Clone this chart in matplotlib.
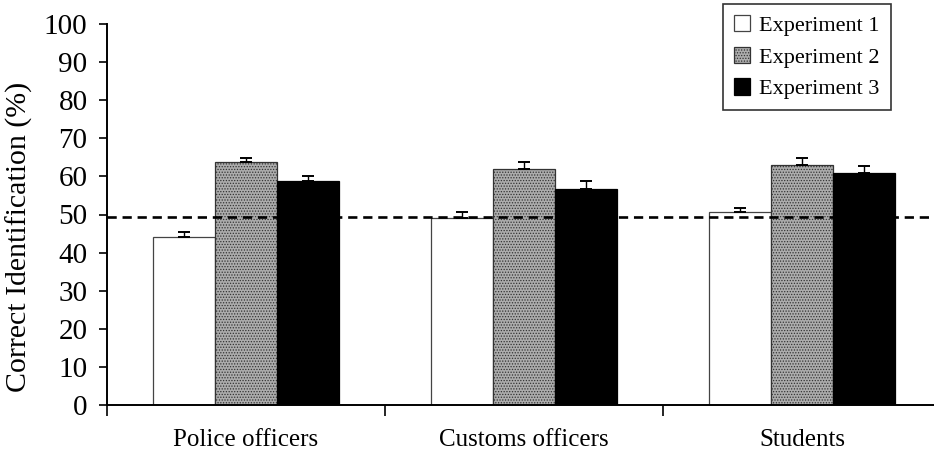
import matplotlib
matplotlib.use("Agg")
import matplotlib.pyplot as plt
import numpy as np

plt.rcParams['font.family'] = ['Liberation Serif', 'DejaVu Serif']
plt.rcParams['hatch.linewidth'] = 0.6

groups = ["Police officers", "Customs officers", "Students"]
series = ["Experiment 1", "Experiment 2", "Experiment 3"]
exp1 = [44.0, 49.0, 50.6]
exp2 = [63.8, 62.0, 63.0]
exp3 = [58.7, 56.7, 61.0]
err1 = [1.3, 1.6, 1.0]
err2 = [1.0, 1.8, 1.8]
err3 = [1.5, 2.0, 1.7]
chance = 49.3
yticks = list(range(0, 101, 10))

fig = plt.figure(figsize=(9.34, 4.62), dpi=100)
ax = fig.add_axes([107/934, 57/462, 834/934, 381/462])

x = np.arange(len(groups))
w = 0.223
styles = [
    dict(color="white", edgecolor="#444444", linewidth=0.9),
    dict(color="#acacac", edgecolor="#333333", hatch="......", linewidth=0.9),
    dict(color="black", edgecolor="black", linewidth=0.9),
]
values = [exp1, exp2, exp3]
errors = [err1, err2, err3]
for i, (vals, errs, st) in enumerate(zip(values, errors, styles)):
    pos = x + (i - 1) * w
    ax.bar(pos, vals, width=w, label=series[i], zorder=2, **st)
    ax.errorbar(pos, vals, yerr=[np.zeros(len(errs)), errs], fmt="none",
                ecolor="black", elinewidth=1.0, capsize=4.5, capthick=1.4,
                zorder=3)

ax.axhline(chance, color="black", linestyle=(0, (3.5, 2.2)), linewidth=1.9, zorder=4)

ax.set_xlim(-0.5, 2.5)
ax.set_ylim(0, 100)
ax.set_yticks(yticks)
ax.set_xticks(x)
ax.set_xticklabels(groups, fontsize=18)
ax.set_xticks([-0.5, 0.5, 1.5], minor=True)
ax.tick_params(axis="x", which="major", length=0, pad=17)
ax.tick_params(axis="x", which="minor", length=8, width=1.2, direction="out")
ax.tick_params(axis="y", labelsize=21, length=6, width=1.2, direction="out", pad=8)
for s in ["top", "right"]:
    ax.spines[s].set_visible(False)
for s in ["left", "bottom"]:
    ax.spines[s].set_linewidth(1.4)
ax.set_ylabel("Correct Identification (%)", fontsize=21.5)
ax.yaxis.set_label_coords(-74/834, 0.44)

leg = ax.legend(loc="upper right", bbox_to_anchor=(891/934, 1 - 4/462),
                bbox_transform=fig.transFigure, fontsize=16, frameon=True,
                fancybox=False, edgecolor="black", handlelength=0.75,
                handleheight=0.75, handletextpad=0.4, labelspacing=0.48,
                borderpad=0.5, borderaxespad=0)
leg.get_frame().set_linewidth(1.2)

fig.savefig("out.png", dpi=100)
